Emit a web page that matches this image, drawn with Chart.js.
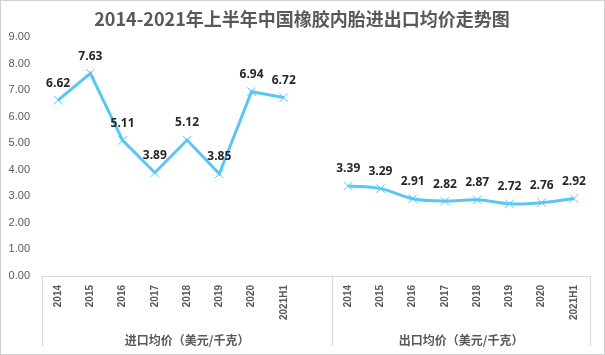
<!DOCTYPE html>
<html>
<head>
<meta charset="utf-8">
<script src="https://cdn.jsdelivr.net/npm/chart.js@4"></script>
<style>
html,body{margin:0;padding:0;background:#fff;}
#wrap{width:605px;height:355px;position:relative;}
</style>
</head>
<body>
<div id="wrap"><canvas id="c" width="605" height="355"></canvas></div>
<script>
const title = "2014-2021年上半年中国橡胶内胎进出口均价走势图";
const years = ["2014","2015","2016","2017","2018","2019","2020","2021H1"];
const groupNames = ["进口均价（美元/千克）","出口均价（美元/千克）"];
const importPrice = [6.62, 7.63, 5.11, 3.89, 5.12, 3.85, 6.94, 6.72];
const exportPrice = [3.39, 3.29, 2.91, 2.82, 2.87, 2.72, 2.76, 2.92];
const yTicks = [0,1,2,3,4,5,6,7,8,9];

// 17 category slots: 8 import, 1 blank separator slot, 8 export
const labels = [...years, "", ...years];
const importData = [...importPrice, ...Array(9).fill(null)];
const exportData = [...Array(9).fill(null), ...exportPrice];

const BLUE = "#5BC6F2";
const GRAY = "#595959";

const decor = {
  id: "decor",
  beforeDraw(chart) {
    const ctx = chart.ctx;
    ctx.save();
    ctx.fillStyle = "#fff";
    ctx.fillRect(0, 0, chart.width, chart.height);
    ctx.restore();
  },
  afterDraw(chart) {
    const ctx = chart.ctx;
    const xs = chart.scales.x;
    const area = chart.chartArea;
    ctx.save();
    // title
    ctx.fillStyle = GRAY;
    ctx.font = "bold 18px 'Noto Sans CJK SC', sans-serif";
    ctx.textAlign = "center";
    ctx.textBaseline = "middle";
    ctx.fillText(title, 302, 19);
    // group separators
    const band = xs.getPixelForValue(1) - xs.getPixelForValue(0);
    const sep = [xs.left, xs.getPixelForValue(8) + band / 2, xs.right];
    ctx.strokeStyle = "#d9d9d9";
    ctx.lineWidth = 1;
    sep.forEach(x => {
      const px = Math.round(x) + 0.5;
      ctx.beginPath();
      ctx.moveTo(px, area.bottom);
      ctx.lineTo(px, 346);
      ctx.stroke();
    });
    // group labels
    ctx.fillStyle = GRAY;
    ctx.font = "bold 12px 'Noto Sans CJK SC', sans-serif";
    ctx.fillText(groupNames[0], (sep[0] + sep[1]) / 2, 340);
    ctx.fillText(groupNames[1], (sep[1] + sep[2]) / 2, 340);
    // outer border
    ctx.strokeStyle = "#d0d0d0";
    ctx.strokeRect(0.5, 0.5, chart.width - 1, chart.height - 1);
    ctx.restore();
  },
  afterDatasetsDraw(chart) {
    const ctx = chart.ctx;
    ctx.save();
    ctx.fillStyle = "#262626";
    ctx.font = "bold 12px 'Open Sans', sans-serif";
    ctx.textAlign = "center";
    ctx.textBaseline = "middle";
    chart.data.datasets.forEach((ds, di) => {
      const meta = chart.getDatasetMeta(di);
      meta.data.forEach((pt, i) => {
        const v = ds.data[i];
        if (v === null || v === undefined) return;
        ctx.fillText(v.toFixed(2), pt.x, pt.y - 17);
      });
    });
    ctx.restore();
  }
};

const commonDs = {
  borderColor: BLUE,
  backgroundColor: BLUE,
  borderWidth: 3,
  pointStyle: "crossRot",
  pointRadius: 6,
  pointBorderWidth: 1,
  pointBorderColor: BLUE,
  pointHoverRadius: 6,
  spanGaps: false,
  fill: false
};

new Chart(document.getElementById("c"), {
  type: "line",
  data: {
    labels: labels,
    datasets: [
      Object.assign({ label: groupNames[0], data: importData, tension: 0 }, commonDs),
      Object.assign({ label: groupNames[1], data: exportData, tension: 0.35 }, commonDs)
    ]
  },
  options: {
    responsive: false,
    animation: false,
    events: [],
    layout: { padding: { top: 37, left: 0, right: 15, bottom: 0 } },
    plugins: { legend: { display: false }, title: { display: false }, tooltip: { enabled: false } },
    scales: {
      x: {
        offset: true,
        grid: { display: false, drawTicks: false },
        border: { display: true, color: "#d9d9d9", width: 1 },
        ticks: {
          autoSkip: false,
          minRotation: 90,
          maxRotation: 90,
          padding: 9,
          color: GRAY,
          font: { family: "'Liberation Sans', sans-serif", size: 10, weight: "bold" }
        },
        afterFit(s) { s.height = 79; }
      },
      y: {
        min: 0,
        max: 9,
        afterBuildTicks(s) { s.ticks = yTicks.map(v => ({ value: v })); },
        grid: { display: false, drawTicks: false },
        border: { display: false },
        ticks: {
          color: GRAY,
          padding: 12,
          font: { family: "'Liberation Sans', sans-serif", size: 11 },
          callback: v => Number(v).toFixed(2)
        },
        afterFit(s) { s.width = 42; }
      }
    }
  },
  plugins: [decor]
});
</script>
</body>
</html>
